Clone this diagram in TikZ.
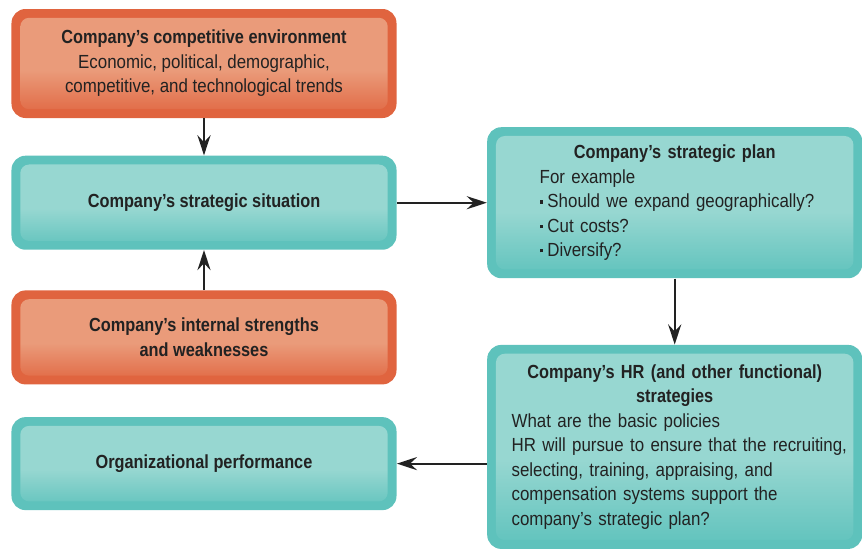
\documentclass[tikz,border=0pt]{standalone}
\usepackage{fontspec}
\setmainfont[FakeStretch=0.89, BoldFeatures={FakeStretch=0.86}]{Liberation Sans}
\usetikzlibrary{arrows.meta, positioning}
\definecolor{orangeedge}{HTML}{E0643F}
\definecolor{orangelight}{HTML}{EA9B7A}
\definecolor{tealedge}{HTML}{5EC2BC}
\definecolor{teallight}{HTML}{97D7D1}
\definecolor{textgray}{HTML}{222222}
\pgfdeclareverticalshading{orangefade}{100bp}{color(0bp)=(orangeedge); color(25bp)=(orangeedge); color(47bp)=(orangelight); color(100bp)=(orangelight)}
\pgfdeclareverticalshading{tealfade}{100bp}{color(0bp)=(tealedge); color(25bp)=(tealedge); color(47bp)=(teallight); color(100bp)=(teallight)}
\newcommand{\sqb}{\rule[2.3pt]{1.8pt}{1.8pt}\hspace{2.6pt}}
\tikzstyle{box} = [
  rectangle,
  rounded corners=8pt,
  minimum width=7.7cm,
  text centered,
  align=center,
  text=textgray,
  font=\fontsize{10.8}{13.9}\selectfont
]
\tikzstyle{env} = [
  box,
  fill=orangeedge,
  path picture={\shade[shading=orangefade, rounded corners=5pt]
    ([shift={(5pt,-5pt)}]path picture bounding box.north west) rectangle
    ([shift={(-5pt,5pt)}]path picture bounding box.south east);}
]
\tikzstyle{strategy} = [
  box,
  fill=tealedge,
  path picture={\shade[shading=tealfade, rounded corners=5pt]
    ([shift={(5pt,-5pt)}]path picture bounding box.north west) rectangle
    ([shift={(-5pt,5pt)}]path picture bounding box.south east);}
]
\tikzstyle{arrow} = [line width=1.1pt, -{Stealth[length=11.5pt, width=7.5pt, inset=4pt]}, draw=textgray]

\begin{document}
\begin{tikzpicture}
    \useasboundingbox (-4.08,1.27) rectangle ++(17.24,-10.96);

    \node (environment) [env, minimum height=2.18cm] at (0,0) {\textbf{Company’s competitive environment}\\Economic, political, demographic,\\competitive, and technological trends};
    \node (situation) [strategy, minimum height=1.88cm, below=0.74cm of environment] {\textbf{Company’s strategic situation}};
    \node (internal) [env, minimum height=1.88cm, below=0.8cm of situation] {\textbf{Company’s internal strengths}\\\textbf{and weaknesses}};
    \node (performance) [strategy, minimum height=1.86cm, below=0.64cm of internal] {\textbf{Organizational performance}};
    \node (plan) [strategy, minimum width=7.5cm, minimum height=3.02cm, text width=5.8cm, align=left, right=1.8cm of situation] {%
      {\centering\textbf{Company’s strategic plan}\par}
      \leftskip=5.7pt
      For example\\
      \sqb Should we expand geographically?\\
      \sqb Cut costs?\\
      \sqb Diversify?\par};
    \node (hr) [strategy, minimum width=7.5cm, minimum height=4.08cm, text width=7cm, align=left, below=1.32cm of plan] {%
      {\centering\textbf{Company’s HR (and other functional)\\strategies}\par}
      \leftskip=6.8pt
      What are the basic policies\\
      HR will pursue to ensure that the recruiting,\\
      selecting, training, appraising, and\\
      compensation systems support the\\
      company’s strategic plan?\par};

    \draw [arrow] (environment) -- (situation);
    \draw [arrow] (internal) -- (situation);
    \draw [arrow] (situation) -- (plan);
    \draw [arrow] (plan) -- (hr);
    \draw [arrow] (hr.west |- performance) -- (performance);
\end{tikzpicture}
\end{document}
